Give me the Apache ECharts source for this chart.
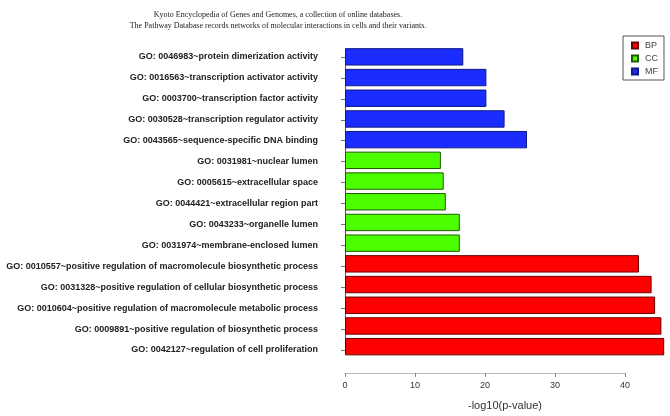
<!DOCTYPE html>
<html>
<head>
<meta charset="utf-8">
<script src="https://cdn.jsdelivr.net/npm/echarts@6/dist/echarts.min.js"></script>
<style>
  html, body { margin: 0; padding: 0; background: #fff; }
  #main { width: 670px; height: 416px; }
</style>
</head>
<body>
<div id="main"></div>
<script>
  // categories listed bottom to top
  const terms = [
    'GO: 0042127~regulation of cell proliferation',
    'GO: 0009891~positive regulation of biosynthetic process',
    'GO: 0010604~positive regulation of macromolecule metabolic process',
    'GO: 0031328~positive regulation of cellular biosynthetic process',
    'GO: 0010557~positive regulation of macromolecule biosynthetic process',
    'GO: 0031974~membrane-enclosed lumen',
    'GO: 0043233~organelle lumen',
    'GO: 0044421~extracellular region part',
    'GO: 0005615~extracellular space',
    'GO: 0031981~nuclear lumen',
    'GO: 0043565~sequence-specific DNA binding',
    'GO: 0030528~transcription regulator activity',
    'GO: 0003700~transcription factor activity',
    'GO: 0016563~transcription activator activity',
    'GO: 0046983~protein dimerization activity'
  ]
  const groupOf = ['BP','BP','BP','BP','BP','CC','CC','CC','CC','CC','MF','MF','MF','MF','MF']
  const logP = [45.6, 45.2, 44.3, 43.8, 42.0, 16.4, 16.4, 14.4, 14.1, 13.7, 26.0, 22.8, 20.2, 20.2, 16.9]
  const groups = ['BP', 'CC', 'MF']
  const groupColors = {BP: '#ff0000', CC: '#4cff00', MF: '#1a2cff'}
  const groupBorders = {BP: '#6a0000', CC: '#1f5a00', MF: '#101a80'}

  let chart = echarts.init(document.getElementById('main'), null, {renderer: 'canvas'})

  let series = groups.map(g => ({
    name: g,
    type: 'bar',
    stack: 'all',
    xAxisIndex: 0,
    yAxisIndex: 0,
    barCategoryGap: '16%',
    data: logP.map((v, i) => groupOf[i] === g ? v : '-'),
    itemStyle: {color: groupColors[g], borderColor: groupBorders[g], borderWidth: 1},
    animation: false
  }))

  let option = {
    backgroundColor: '#fff',
    title: {
      text: 'Kyoto Encyclopedia of Genes and Genomes, a collection of online databases.\nThe Pathway Database records networks of molecular interactions in cells and their variants.',
      left: 273,
      textAlign: 'center',
      top: 4,
      textStyle: {fontFamily: 'Liberation Serif', fontSize: 8, fontWeight: 'normal', color: '#222', lineHeight: 11}
    },
    legend: {
      data: groups,
      orient: 'vertical',
      left: 623,
      top: 36,
      padding: [5, 6, 4, 8],
      icon: 'rect',
      itemWidth: 6,
      itemHeight: 6,
      itemGap: 4,
      borderColor: '#555',
      borderWidth: 1,
      textStyle: {fontFamily: 'Liberation Sans', fontSize: 9, color: '#444', padding: [0, 0, 0, 2]}
    },
    grid: [
      {left: 345, right: 5, top: 46.5, height: 314, containLabel: false},
      {left: 345, width: 280, top: 57, height: 293, containLabel: false}
    ],
    xAxis: [
      {
        type: 'value', gridIndex: 0, min: 0, max: 320 / 7,
        name: '-log10(p-value)', nameLocation: 'middle', nameGap: 43,
        nameTextStyle: {fontFamily: 'Liberation Sans', fontSize: 11, color: '#333'},
        axisLine: {show: false}, axisTick: {show: false}, axisLabel: {show: false}, splitLine: {show: false}
      },
      {
        type: 'value', gridIndex: 1, min: 0, max: 40, interval: 10, offset: 23,
        axisLine: {show: true, lineStyle: {color: '#bbb'}},
        axisTick: {show: true, length: 4, lineStyle: {color: '#888'}},
        axisLabel: {fontFamily: 'Liberation Sans', fontSize: 9, color: '#333', margin: 8},
        splitLine: {show: false}
      }
    ],
    yAxis: [
      {
        type: 'category', gridIndex: 0, data: terms,
        axisLine: {show: false}, axisTick: {show: false}, axisLabel: {show: false}
      },
      {
        type: 'category', gridIndex: 1, data: terms, boundaryGap: false, offset: 15,
        axisLine: {show: true, lineStyle: {color: '#555'}},
        axisTick: {show: true, length: 4, lineStyle: {color: '#777'}},
        axisLabel: {fontFamily: 'Liberation Sans', fontSize: 9, fontWeight: 'bold', color: '#222', margin: 12}
      }
    ],
    series: series
  }
  chart.setOption(option)
</script>
</body>
</html>
